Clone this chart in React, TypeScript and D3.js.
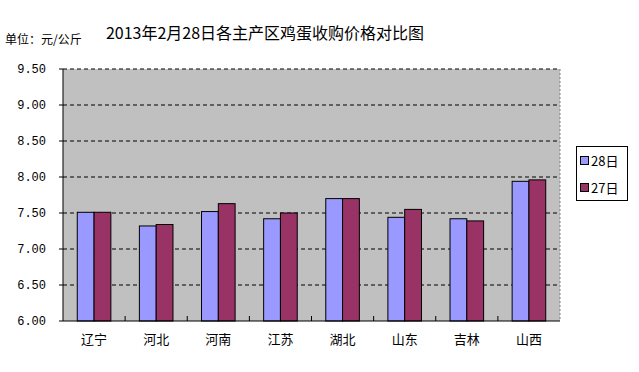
import * as d3 from 'd3'

const regions = ['辽宁', '河北', '河南', '江苏', '湖北', '山东', '吉林', '山西']
const price28 = [7.51, 7.32, 7.52, 7.42, 7.7, 7.44, 7.42, 7.94]
const price27 = [7.51, 7.34, 7.63, 7.5, 7.7, 7.55, 7.39, 7.96]
const seriesNames = ['28日', '27日']
const yTicks = [6, 6.5, 7, 7.5, 8, 8.5, 9, 9.5]

const colors = ['#9999ff', '#993366']
const width = 639
const height = 372
const plot = { left: 63, right: 560, top: 69, bottom: 321 }

const App = () => {
  const xScale = d3
    .scaleBand<string>()
    .domain(regions)
    .range([plot.left, plot.right])
  const yScale = d3.scaleLinear().domain([6, 9.5]).range([plot.bottom, plot.top])

  const barW = 16.8
  const series = [price28, price27]

  return (
    <div style={{ position: 'absolute', left: 0, top: 0 }}>
      <svg width={width} height={height} style={{ display: 'block', background: '#fff' }}>
        <text
          x={265}
          y={39}
          textAnchor="middle"
          fontSize={16}
          fontFamily="'Noto Sans CJK SC', sans-serif"
          fill="#000"
        >
          2013年2月28日各主产区鸡蛋收购价格对比图
        </text>
        <text x={5} y={44} fontSize={12} fontFamily="'Noto Sans CJK SC', sans-serif" fill="#000">
          单位：元/公斤
        </text>

        <rect
          x={plot.left}
          y={plot.top}
          width={plot.right - plot.left}
          height={plot.bottom - plot.top}
          fill="#c0c0c0"
        />
        <line
          x1={plot.right}
          x2={plot.right}
          y1={plot.top}
          y2={plot.bottom}
          stroke="#808080"
          strokeDasharray="2,2"
        />
        {yTicks.map(t => (
          <g key={t}>
            {t > 6 && (
              <line
                x1={plot.left}
                x2={plot.right}
                y1={yScale(t)}
                y2={yScale(t)}
                stroke="#000"
                strokeDasharray="4,3"
              />
            )}
            <line x1={plot.left - 4} x2={plot.left} y1={yScale(t)} y2={yScale(t)} stroke="#000" />
            <text
              x={46}
              y={yScale(t) + 4}
              textAnchor="end"
              fontSize={12}
              fontFamily="'Liberation Mono', monospace"
              fill="#000"
            >
              {t.toFixed(2)}
            </text>
          </g>
        ))}

        {regions.map((r, i) => {
          const cx = (xScale(r) ?? 0) + xScale.bandwidth() / 2
          return (
            <g key={r}>
              {series.map((s, j) => (
                <rect
                  key={j}
                  x={cx - barW + j * barW}
                  y={yScale(s[i])}
                  width={barW}
                  height={plot.bottom - yScale(s[i])}
                  fill={colors[j]}
                  stroke="#000"
                  strokeWidth={1}
                />
              ))}
              <text
                x={cx}
                y={344}
                textAnchor="middle"
                fontSize={13}
                fontFamily="'Noto Sans CJK SC', sans-serif"
                fill="#000"
              >
                {r}
              </text>
            </g>
          )
        })}

        {regions.slice(1).map(r => (
          <line
            key={r}
            x1={xScale(r)}
            x2={xScale(r)}
            y1={plot.bottom - 5}
            y2={plot.bottom}
            stroke="#000"
          />
        ))}
        <line x1={plot.left} x2={plot.left} y1={plot.top} y2={plot.bottom} stroke="#000" />
        <line x1={plot.left} x2={plot.right} y1={plot.bottom} y2={plot.bottom} stroke="#000" />

        <rect x={576.5} y={146.5} width={51} height={54} fill="#fff" stroke="#000" />
        {seriesNames.map((n, j) => (
          <g key={n}>
            <rect
              x={580.5}
              y={156.5 + j * 27}
              width={8}
              height={8}
              fill={colors[j]}
              stroke="#000"
            />
            <text
              x={591}
              y={166 + j * 27}
              fontSize={13}
              fontFamily="'Noto Sans CJK SC', sans-serif"
              fill="#000"
            >
              {n}
            </text>
          </g>
        ))}
      </svg>
    </div>
  )
}

export default App
